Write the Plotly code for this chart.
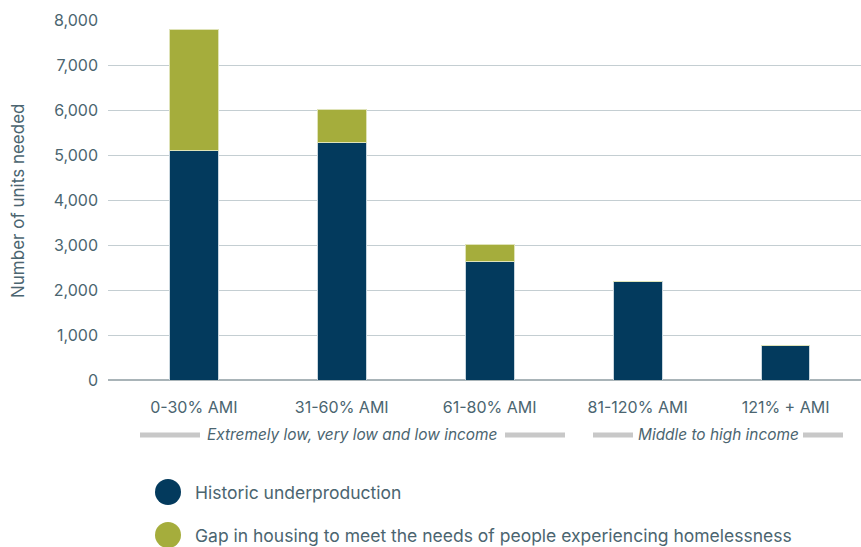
import plotly.graph_objects as go

categories = ["0-30% AMI", "31-60% AMI", "61-80% AMI", "81-120% AMI", "121% + AMI"]
historic = [5090, 5270, 2640, 2180, 760]
gap = [2710, 750, 380, 0, 0]
series_names = ["Historic underproduction",
                "Gap in housing to meet the needs of people experiencing homelessness"]
group_labels = ["Extremely low, very low and low income", "Middle to high income"]
y_ticks = [0, 1000, 2000, 3000, 4000, 5000, 6000, 7000, 8000]

NAVY = "#033a5d"
OLIVE = "#a5ad3c"
TXT = "#4b6570"
FONT = "Inter, Roboto, sans-serif"

W, H = 861, 547
L, R, T, B = 108, 0, 20, 167
PW, PH = W - L - R, H - T - B

def px(x):
    return (x - L) / PW

def py(y):
    return (H - B - y) / PH

fig = go.Figure()
fig.add_bar(x=categories, y=historic, name=series_names[0], marker_color=NAVY,
            marker_line=dict(color="#c9d6de", width=1), width=0.33, showlegend=False)
fig.add_bar(x=categories, y=gap, name=series_names[1], marker_color=OLIVE,
            marker_line=dict(color="#dfe3b8", width=1), width=0.33, showlegend=False)

fig.update_layout(
    barmode="stack",
    width=W, height=H,
    margin=dict(l=L, r=R, t=T, b=B),
    plot_bgcolor="white", paper_bgcolor="white",
    font=dict(family=FONT, color=TXT, size=16),
)
fig.update_xaxes(range=[-0.58, 4.51], showgrid=False, showline=False, ticks="",
                 tickfont=dict(size=16, color=TXT), ticklabelstandoff=16)
fig.update_yaxes(range=[0, 8000], tickvals=y_ticks, tickformat=",d",
                 showgrid=True, gridcolor="#c4ced2", gridwidth=1.2,
                 zeroline=True, zerolinecolor="#a9b4b8", zerolinewidth=1.5,
                 tickfont=dict(size=16, color=TXT), ticklabelstandoff=9)

ann = []
shapes = []
# y-axis title
ann.append(dict(text="Number of units needed", xref="paper", yref="paper",
                x=px(18), y=py(201), textangle=-90, showarrow=False,
                font=dict(size=17, color=TXT), xanchor="center", yanchor="middle"))
# group labels
ann.append(dict(text="<i>" + group_labels[0] + "</i>", xref="paper", yref="paper",
                x=px(352), y=py(435), showarrow=False, xanchor="center", yanchor="middle",
                font=dict(size=15.4, color=TXT)))
ann.append(dict(text="<i>" + group_labels[1] + "</i>", xref="paper", yref="paper",
                x=px(718), y=py(435), showarrow=False, xanchor="center", yanchor="middle",
                font=dict(size=15.4, color=TXT)))
for x0, x1 in [(140, 200), (505, 565), (593, 633), (803, 843)]:
    shapes.append(dict(type="line", xref="paper", yref="paper",
                       x0=px(x0), x1=px(x1), y0=py(435), y1=py(435),
                       line=dict(color="#c8c8c8", width=5)))
# legend
for i, (name, col) in enumerate(zip(series_names, [NAVY, OLIVE])):
    cy = 492 + 43 * i
    shapes.append(dict(type="circle", xref="paper", yref="paper",
                       x0=px(155), x1=px(181), y0=py(cy - 13), y1=py(cy + 13),
                       fillcolor=col, line=dict(width=0)))
    ann.append(dict(text=name, xref="paper", yref="paper", x=px(193), y=py(cy),
                    showarrow=False, xanchor="left", yanchor="middle",
                    font=dict(size=17.5, color=TXT)))

fig.update_layout(annotations=ann, shapes=shapes)
fig.write_html("out.html")
